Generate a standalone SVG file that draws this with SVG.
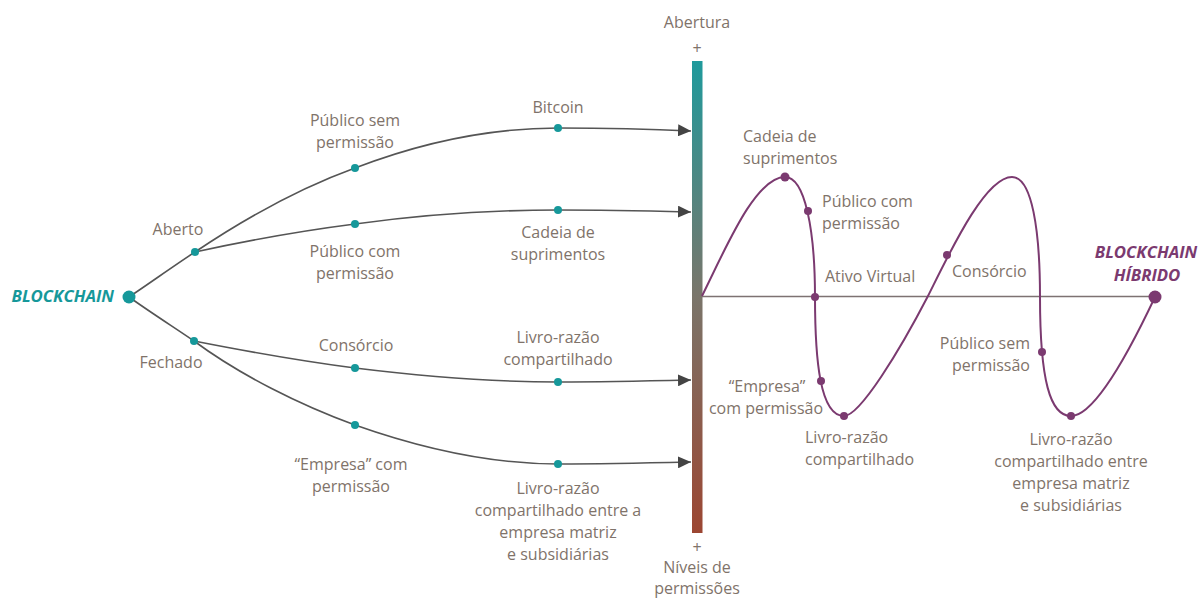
<svg xmlns="http://www.w3.org/2000/svg" width="1198" height="599" viewBox="0 0 1198 599">
<style>
text{font-family:"Open Sans","Liberation Sans",sans-serif;font-size:16px;fill:#7f736a}
.c{text-anchor:middle}
.e{text-anchor:end}
.conn{fill:none;stroke:#555;stroke-width:1.6}
.tdot{fill:#16989a}
.pdot{fill:#7b3a70}
.big{font-weight:bold;font-style:italic;font-size:16.8px}
</style>
<defs>
<linearGradient id="bar" x1="0" y1="0" x2="0" y2="1">
<stop offset="0" stop-color="#1f9a9c"/>
<stop offset="0.5" stop-color="#7a756a"/>
<stop offset="1" stop-color="#9c4632"/>
</linearGradient>
<marker id="arr" markerUnits="userSpaceOnUse" markerWidth="14" markerHeight="12" refX="13" refY="6" orient="auto">
<path d="M0,0 L13,6 L0,12 Z" fill="#444"/>
</marker>
</defs>
<rect width="1198" height="599" fill="#fff"/>
<g id="connectors">
<path class="conn" d="M129,297 C150,283 175,265 195,252"/>
<path class="conn" d="M129,297 C150,312 175,328 194,341"/>
<path class="conn" marker-end="url(#arr)" d="M195,252 C250,215 300,188 355,168 C420,143 490,128 558,128 C610,128 650,129 691,131"/>
<path class="conn" marker-end="url(#arr)" d="M195,252 C250,240 300,231 355,224 C420,215 490,210 558,210 C610,210 650,211 691,212"/>
<path class="conn" marker-end="url(#arr)" d="M194,341 C250,352 300,361 355,368 C420,376 490,382 558,382 C610,382 650,381 691,380"/>
<path class="conn" marker-end="url(#arr)" d="M194,341 C240,375 300,405 355,425 C420,448 490,464 558,464 C610,464 650,463 691,462"/>
</g>
<g id="axis">
<rect x="692" y="61" width="10.5" height="472" fill="url(#bar)"/>
<text class="c" x="697" y="28">Abertura</text>
<text class="c" x="697" y="54">+</text>
<text class="c" x="697" y="553">+</text>
<text class="c" x="697" y="573">Níveis de</text>
<text class="c" x="697" y="594">permissões</text>
<line x1="702" y1="296.5" x2="1155" y2="296.5" stroke="#7d7272" stroke-width="1.6"/>
</g>
<g id="blockchain">
<circle class="tdot" cx="129" cy="297" r="6.5"/>
<text class="big e" x="114" y="302" style="fill:#16989a">BLOCKCHAIN</text>
</g>
<g id="aberto"><circle class="tdot" cx="195" cy="252" r="4"/><text class="c" x="178" y="235">Aberto</text></g>
<g id="fechado"><circle class="tdot" cx="194" cy="341" r="4"/><text class="c" x="171" y="368">Fechado</text></g>
<g id="publico-sem"><circle class="tdot" cx="355" cy="168" r="4"/><text class="c" x="355" y="126">Público sem</text><text class="c" x="355" y="148">permissão</text></g>
<g id="publico-com"><circle class="tdot" cx="355" cy="224" r="4"/><text class="c" x="355" y="257">Público com</text><text class="c" x="355" y="279">permissão</text></g>
<g id="consorcio"><circle class="tdot" cx="355" cy="368" r="4"/><text class="c" x="356" y="351">Consórcio</text></g>
<g id="empresa"><circle class="tdot" cx="355" cy="425" r="4"/><text class="c" x="351" y="470">“Empresa” com</text><text class="c" x="351" y="492">permissão</text></g>
<g id="bitcoin"><circle class="tdot" cx="558" cy="128" r="4"/><text class="c" x="558" y="113">Bitcoin</text></g>
<g id="cadeia"><circle class="tdot" cx="558" cy="210" r="4"/><text class="c" x="558" y="238">Cadeia de</text><text class="c" x="558" y="260">suprimentos</text></g>
<g id="livro"><circle class="tdot" cx="558" cy="382" r="4"/><text class="c" x="558" y="343">Livro-razão</text><text class="c" x="558" y="365">compartilhado</text></g>
<g id="livro-entre"><circle class="tdot" cx="558" cy="464" r="4"/><text class="c" x="558" y="494">Livro-razão</text><text class="c" x="558" y="516">compartilhado entre a</text><text class="c" x="558" y="538">empresa matriz</text><text class="c" x="558" y="560">e subsidiárias</text></g>
<g id="hybrid-curve">
<path fill="none" stroke="#7b3a70" stroke-width="2" d="M702,296 C725,250 755,177 785,177 C805,177 815,230 815,297 C815,360 820,416 844,416 C860,416 900,350 928,296 C950,252 985,177 1012,177 C1032,177 1040,230 1040,297 C1040,380 1050,416 1071,416 C1095,416 1130,350 1155,297"/>
</g>
<g id="h-cadeia"><circle class="pdot" cx="785" cy="177" r="4.5"/><text x="743" y="142">Cadeia de</text><text x="743" y="164">suprimentos</text></g>
<g id="h-publico-com"><circle class="pdot" cx="808" cy="211" r="4"/><text x="822" y="207">Público com</text><text x="822" y="229">permissão</text></g>
<g id="h-ativo"><circle class="pdot" cx="815" cy="297" r="4"/><text x="825" y="282">Ativo Virtual</text></g>
<g id="h-empresa"><circle class="pdot" cx="821" cy="381" r="4"/><text class="c" x="767" y="392">“Empresa”</text><text class="c" x="766" y="414">com permissão</text></g>
<g id="h-livro"><circle class="pdot" cx="844" cy="416" r="4"/><text x="805" y="443">Livro-razão</text><text x="805" y="465">compartilhado</text></g>
<g id="h-consorcio"><circle class="pdot" cx="947" cy="255" r="4"/><text x="952" y="277">Consórcio</text></g>
<g id="h-publico-sem"><circle class="pdot" cx="1042" cy="352" r="4"/><text class="e" x="1030" y="349">Público sem</text><text class="e" x="1030" y="371">permissão</text></g>
<g id="h-livro-entre"><circle class="pdot" cx="1071" cy="416" r="4"/><text class="c" x="1071" y="445">Livro-razão</text><text class="c" x="1071" y="467">compartilhado entre</text><text class="c" x="1071" y="489">empresa matriz</text><text class="c" x="1071" y="511">e subsidiárias</text></g>
<g id="hibrido"><circle class="pdot" cx="1155" cy="297" r="6.5"/><text class="big c" x="1146" y="258" style="fill:#7b3a70">BLOCKCHAIN</text><text class="big c" x="1147" y="281" style="fill:#7b3a70">HÍBRIDO</text></g>
</svg>
